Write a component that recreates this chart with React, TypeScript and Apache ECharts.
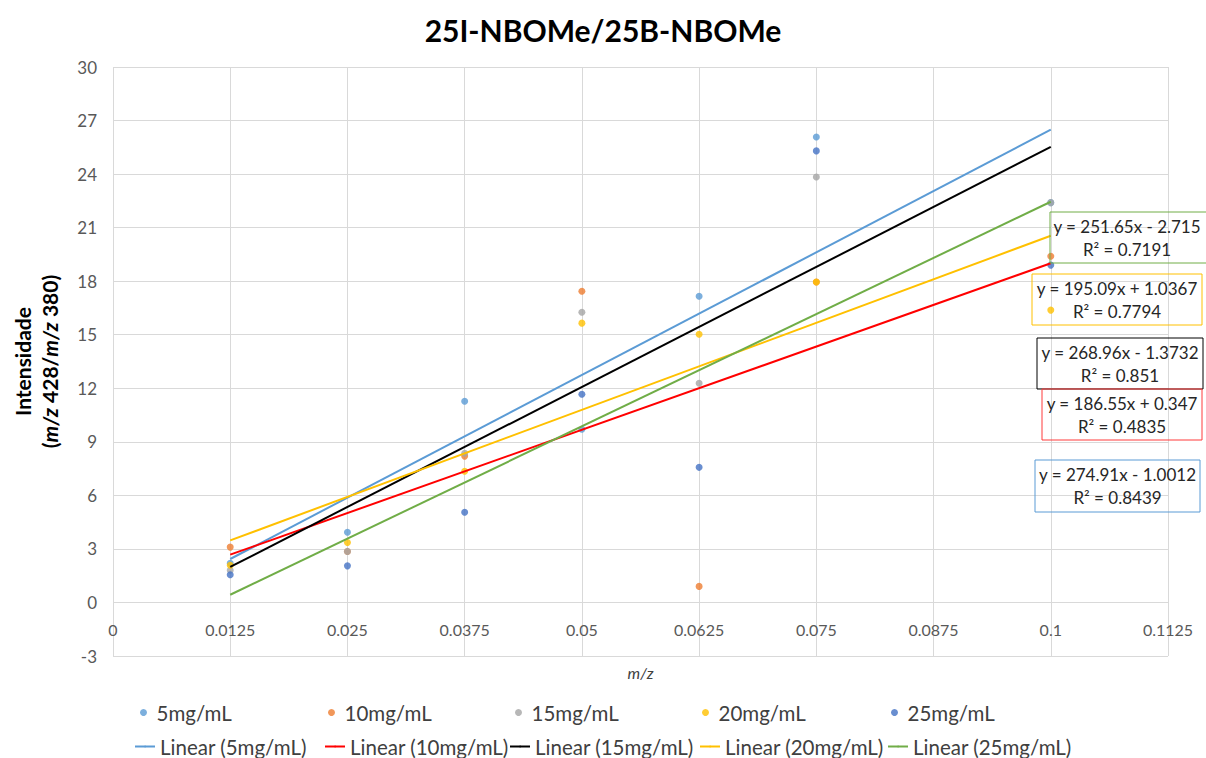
import React, { useEffect, useRef } from "react";
import * as echarts from "echarts";

const xValues = [0.0125, 0.025, 0.0375, 0.05, 0.0625, 0.075, 0.1];
const seriesNames = ["5mg/mL", "10mg/mL", "15mg/mL", "20mg/mL", "25mg/mL"];
const s5 = [2.2, 3.93, 11.27, 9.7, 17.16, 26.08, 22.4];
const s10 = [3.1, 2.85, 8.2, 17.44, 0.9, 17.95, 19.4];
const s15 = [1.8, 2.86, 8.36, 16.26, 12.28, 23.84, 22.4];
const s20 = [2.08, 3.36, 7.35, 15.65, 15.03, 17.95, 16.38];
const s25 = [1.55, 2.05, 5.05, 11.67, 7.57, 25.3, 18.9];
const seriesValues = [s5, s10, s15, s20, s25];
const markerColors = ["#5B9BD5", "#ED7D31", "#A5A5A5", "#FFC000", "#4472C4"];

const slopes = [274.91, 186.55, 268.96, 195.09, 251.65];
const intercepts = [-1.0012, 0.347, -1.3732, 1.0367, -2.715];
const rSquared = ["0.8439", "0.4835", "0.851", "0.7794", "0.7191"];
const trendColors = ["#5B9BD5", "#FF0000", "#000000", "#FFC000", "#70AD47"];
const trendRange = [0.0125, 0.1];

const xTicks = { min: 0, max: 0.1125, interval: 0.0125 };
const yTicks = { min: -3, max: 30, interval: 3 };

const FONT = "Lato, 'Open Sans', sans-serif";

function eqLabel(i: number) {
  const b = intercepts[i];
  const sign = b < 0 ? "-" : "+";
  return `y = ${slopes[i]}x ${sign} ${Math.abs(b)}\nR² = ${rSquared[i]}`;
}

const boxes: { idx: number; x: number; y: number; w: number; h: number; stroke: string }[] = [
  { idx: 4, x: 1050, y: 212, w: 160, h: 51, stroke: "#70AD47" },
  { idx: 3, x: 1032, y: 274, w: 170, h: 51, stroke: "#FFC000" },
  { idx: 2, x: 1037, y: 338, w: 166, h: 51, stroke: "#000000" },
  { idx: 1, x: 1042, y: 389, w: 160, h: 51, stroke: "#FF3B3B" },
  { idx: 0, x: 1035, y: 460, w: 165, h: 52, stroke: "#5B9BD5" },
];

const legendRow1Left = [140, 328, 515, 702, 891];
const legendRow2Left = [134, 324, 509, 699, 887];

export default function App() {
  const ref = useRef<HTMLDivElement>(null);
  useEffect(() => {
    if (!ref.current) return;
    const chart = echarts.init(ref.current, undefined, { renderer: "svg" });

    const scatterSeries = seriesNames.map((name, i) => ({
      name,
      type: "scatter",
      symbol: "circle",
      symbolSize: 7,
      itemStyle: { color: markerColors[i] },
      data: xValues.map((x, j) => [x, seriesValues[i][j]]),
      z: 2,
    }));
    const lineSeries = seriesNames.map((name, i) => ({
      name: `Linear (${name})`,
      type: "line",
      symbol: "none",
      showSymbol: false,
      lineStyle: { color: trendColors[i], width: 2 },
      itemStyle: { color: trendColors[i] },
      data: trendRange.map((x) => [x, slopes[i] * x + intercepts[i]]),
      z: 3,
    }));

    const legends: any[] = [];
    seriesNames.forEach((name, i) => {
      legends.push({
        data: [name],
        left: legendRow1Left[i],
        top: 702,
        padding: 0,
        icon: "circle",
        itemWidth: 16,
        itemHeight: 7,
        textStyle: { fontFamily: FONT, fontSize: 20.5, color: "#404040" },
        selectedMode: false,
      });
      legends.push({
        data: [`Linear (${name})`],
        left: legendRow2Left[i],
        top: 736,
        padding: 0,
        itemWidth: 20,
        itemHeight: 2,
        textStyle: { fontFamily: FONT, fontSize: 20.5, color: "#404040" },
        selectedMode: false,
      });
    });

    const graphics: any[] = [];
    boxes.forEach((b) => {
      graphics.push({
        type: "rect",
        shape: { x: b.x, y: b.y, width: b.w, height: b.h },
        style: { fill: "none", stroke: b.stroke, lineWidth: 1 },
        z: 10,
      });
      graphics.push({
        type: "text",
        x: b.x + b.w / 2 + (b.idx === 4 ? -3 : 0),
        y: b.y + b.h / 2,
        style: {
          text: eqLabel(b.idx),
          fontFamily: FONT,
          fontSize: 17,
          lineHeight: 23,
          fill: "#262626",
          textAlign: "center",
          textVerticalAlign: "middle",
        },
        z: 11,
      });
    });

    chart.setOption({
      animation: false,
      backgroundColor: "#ffffff",
      title: {
        text: "25I-NBOMe/25B-NBOMe",
        left: "center",
        top: 10,
        textStyle: { fontFamily: FONT, fontSize: 30, fontWeight: "bold", color: "#000" },
      },
      grid: { left: 113, right: 38, top: 67, bottom: 102, containLabel: false },
      legend: legends,
      xAxis: {
        type: "value",
        min: xTicks.min,
        max: xTicks.max,
        interval: xTicks.interval,
        name: "m/z",
        nameLocation: "middle",
        nameGap: 8,
        nameTextStyle: { fontFamily: FONT, fontSize: 16, fontStyle: "italic", color: "#404040" },
        axisLine: { onZero: false, show: false },
        axisTick: { show: false },
        axisLabel: {
          fontFamily: FONT,
          fontSize: 16,
          color: "#595959",
          margin: -35,
          formatter: (v: number) => String(parseFloat(v.toFixed(4))),
        },
        splitLine: { show: true, lineStyle: { color: "#D9D9D9", width: 1 } },
      },
      yAxis: {
        type: "value",
        min: yTicks.min,
        max: yTicks.max,
        interval: yTicks.interval,
        name: "{b|Intensidade}\n{b|(}{i|m/z}{b| 428/}{i|m/z}{b| 380)}",
        nameLocation: "middle",
        nameRotate: 90,
        nameGap: 50,
        nameTextStyle: {
          align: "center",
          rich: {
            b: { fontFamily: FONT, fontSize: 21, fontWeight: "bold", color: "#000", lineHeight: 27 },
            i: { fontFamily: FONT, fontSize: 21, fontWeight: "bold", fontStyle: "italic", color: "#000", lineHeight: 27 },
          },
        },
        axisLine: { show: false },
        axisTick: { show: false },
        axisLabel: { fontFamily: FONT, fontSize: 17, color: "#595959", margin: 16 },
        splitLine: { show: true, lineStyle: { color: "#D9D9D9", width: 1 } },
      },
      series: [...scatterSeries, ...lineSeries],
      graphic: graphics,
    });
    return () => chart.dispose();
  }, []);
  return (
    <div
      ref={ref}
      style={{ position: "absolute", left: 0, top: 0, width: 1206, height: 758, background: "#fff" }}
    />
  );
}
